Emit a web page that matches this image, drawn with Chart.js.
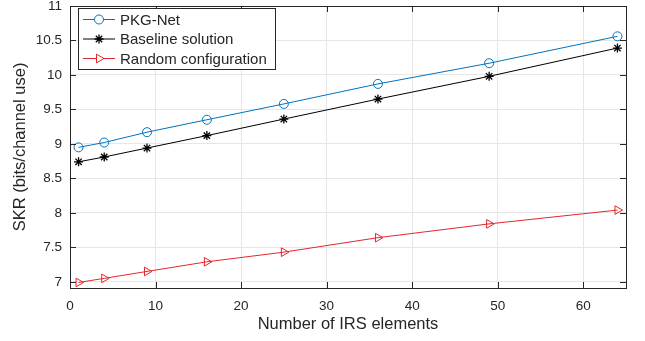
<!DOCTYPE html>
<html lang="en">
<head>
  <meta charset="utf-8">
  <title>SKR vs IRS elements</title>
  <script src="https://cdn.jsdelivr.net/npm/chart.js@4.4.1/dist/chart.umd.min.js"></script>
  <style>
    html, body { margin: 0; padding: 0; background: #fff; }
    #wrap { width: 645px; height: 341px; }
  </style>
</head>
<body>
<div id="wrap"><canvas id="skrChart" width="645" height="341"></canvas></div>
<script>
// data
var irsElements = [1, 4, 9, 16, 25, 36, 49, 64];
var pkgNet = [8.95, 9.02, 9.17, 9.35, 9.58, 9.87, 10.17, 10.56];
var baseline = [8.74, 8.81, 8.94, 9.12, 9.36, 9.65, 9.98, 10.39];
var randomConf = [6.99, 7.05, 7.15, 7.29, 7.43, 7.64, 7.84, 8.04];
var seriesNames = ['PKG-Net', 'Baseline solution', 'Random configuration'];
var xTicks = [0, 10, 20, 30, 40, 50, 60];
var yTicks = [7, 7.5, 8, 8.5, 9, 9.5, 10, 10.5, 11];

var textColor = '#262626';
var family = 'Liberation Sans, Arial, sans-serif';
var tickFont = { family: family, size: 13.5 };
var titleFont = { family: family, size: 16.5 };
var legendSize = 15;

function points(ys) {
  var out = [];
  for (let i = 0; i < irsElements.length; i++) {
    out.push({ x: irsElements[i], y: ys[i] });
  }
  return out;
}

// matlab style box with inward ticks, plus the legend
var boxPlugin = {
  id: 'box',
  afterDraw: function(chart) {
    var ctx = chart.ctx;
    var a = chart.chartArea;
    var xs = chart.scales.x, ys = chart.scales.y;
    ctx.save();
    ctx.strokeStyle = '#262626';
    ctx.lineWidth = 1;
    ctx.strokeRect(a.left + 0.5, a.top + 0.5, a.right - a.left, a.bottom - a.top);
    ctx.beginPath();
    xTicks.forEach(function(v) {
      var px = Math.round(xs.getPixelForValue(v)) + 0.5;
      ctx.moveTo(px, a.bottom); ctx.lineTo(px, a.bottom - 6);
      ctx.moveTo(px, a.top); ctx.lineTo(px, a.top + 6);
    });
    yTicks.forEach(function(v) {
      var py = Math.round(ys.getPixelForValue(v)) + 0.5;
      ctx.moveTo(a.left, py); ctx.lineTo(a.left + 6, py);
      ctx.moveTo(a.right, py); ctx.lineTo(a.right - 6, py);
    });
    ctx.stroke();

    // legend
    var lx = 78, ly = 8, lw = 197, lh = 61;
    ctx.fillStyle = '#fff';
    ctx.fillRect(lx, ly, lw, lh);
    ctx.strokeStyle = '#262626';
    ctx.strokeRect(lx + 0.5, ly + 0.5, lw, lh);
    ctx.font = legendSize + 'px ' + family;
    ctx.textBaseline = 'middle';
    chart.data.datasets.forEach(function(ds, i) {
      var cy = 19.5 + i * 19.5;
      ctx.strokeStyle = ds.borderColor;
      ctx.lineWidth = 1;
      ctx.beginPath();
      ctx.moveTo(83, cy); ctx.lineTo(115, cy);
      ctx.stroke();
      ctx.fillStyle = '#fff';
      ctx.lineWidth = ds.pointBorderWidth;
      Chart.helpers.drawPoint(ctx, {
        pointStyle: ds.pointStyle, radius: ds.pointRadius, rotation: ds.pointRotation || 0,
        borderWidth: ds.pointBorderWidth
      }, 99, cy);
      ctx.fillStyle = textColor;
      ctx.fillText(ds.label, 120, cy + 1);
    });
    ctx.restore();
  }
};

var ctx = document.getElementById('skrChart').getContext('2d');
var mychart = new Chart(ctx, {
  type: 'line',
  data: {
    datasets: [{
      label: seriesNames[0],
      data: points(pkgNet),
      borderColor: '#0072BD',
      backgroundColor: 'rgba(0,0,0,0)',
      borderWidth: 1,
      pointStyle: 'circle',
      pointRadius: 4.5,
      pointBorderWidth: 1
    }, {
      label: seriesNames[1],
      data: points(baseline),
      borderColor: '#000000',
      backgroundColor: 'rgba(0,0,0,0)',
      borderWidth: 1,
      pointStyle: 'star',
      pointRadius: 4.5,
      pointBorderWidth: 1.3
    }, {
      label: seriesNames[2],
      data: points(randomConf),
      borderColor: '#E3262B',
      backgroundColor: 'rgba(0,0,0,0)',
      borderWidth: 1,
      pointStyle: 'triangle',
      pointRotation: 90,
      pointRadius: 5,
      pointBorderWidth: 1
    }]
  },
  options: {
    responsive: false,
    animation: false,
    layout: { padding: { top: 3, right: 19, left: 0, bottom: 0 } },
    plugins: { legend: { display: false }, tooltip: { enabled: false } },
    scales: {
      x: {
        type: 'linear',
        min: 0, max: 65,
        afterBuildTicks: function(s) { s.ticks = xTicks.map(function(v) { return { value: v }; }); },
        afterFit: function(s) { s.height = 53; s.paddingLeft = 0; s.paddingRight = 0; },
        grid: { color: '#e6e6e6', drawTicks: false },
        border: { display: false },
        ticks: { color: textColor, font: tickFont, padding: 10, maxRotation: 0 },
        title: { display: true, text: 'Number of IRS elements', color: textColor, font: titleFont, padding: { top: 0, bottom: 7 } }
      },
      y: {
        type: 'linear',
        min: 6.91, max: 11,
        afterBuildTicks: function(s) { s.ticks = yTicks.map(function(v) { return { value: v }; }); },
        afterFit: function(s) { s.width = 70; s.paddingTop = 0; s.paddingBottom = 0; },
        grid: { color: '#e6e6e6', drawTicks: false },
        border: { display: false },
        ticks: { color: textColor, font: tickFont, padding: 8, callback: function(v) { return String(v); } },
        title: { display: true, text: 'SKR (bits/channel use)', color: textColor, font: titleFont, padding: { top: 11, bottom: 0 } }
      }
    }
  },
  plugins: [boxPlugin]
});
</script>
</body>
</html>
